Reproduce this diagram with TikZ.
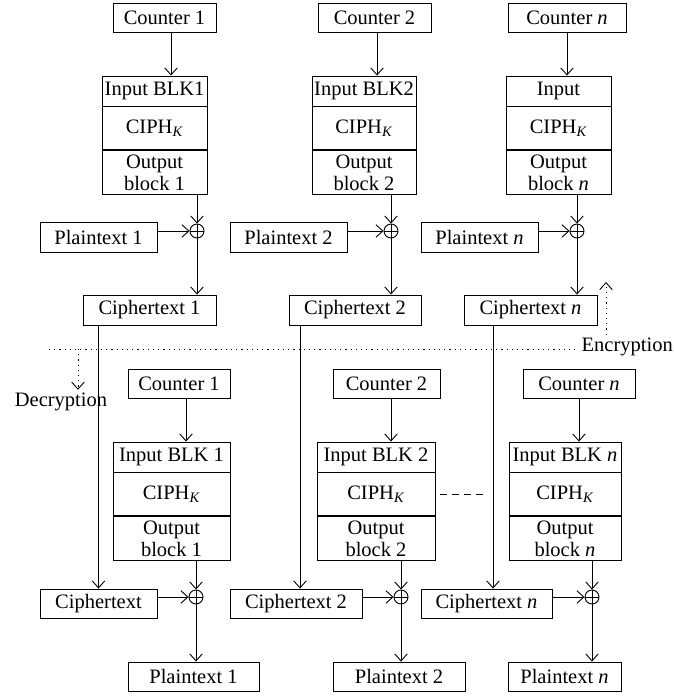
\documentclass[tikz,border=0pt]{standalone}
\usepackage{fontspec}
\setmainfont{Liberation Serif}
\usetikzlibrary{shapes.geometric, arrows.meta, positioning}
\tikzstyle{box} = [rectangle, minimum height=29pt, inner sep=0pt, text centered, draw=black, line width=0.9pt]
\tikzstyle{inblk} = [box, minimum height=30pt]
\tikzstyle{ciphblk} = [box, minimum height=43pt]
\tikzstyle{outblk} = [box, minimum height=44pt, align=center]
\tikzstyle{xorop} = [circle, draw=black, line width=0.9pt, minimum size=14pt, inner sep=0pt, path picture={\draw[line width=0.9pt] (path picture bounding box.north) -- (path picture bounding box.south) (path picture bounding box.west) -- (path picture bounding box.east);}]
\tikzstyle{arrow} = [line width=0.9pt, -{Straight Barb[length=7pt,width=12.5pt]}]
\tikzstyle{dotline} = [line width=0.9pt, dash pattern=on 1.2pt off 4pt]
\tikzstyle{dotarrow} = [arrow, dash pattern=on 1.2pt off 4pt]
\tikzstyle{note} = [inner sep=3pt]

\begin{document}
\begin{tikzpicture}[x=1pt, y=-1pt, font=\fontsize{20.5}{22}\selectfont]
\useasboundingbox (0,0) rectangle (674,696);

% Encryption
\node (ctr1) [box, minimum width=103pt] at (164.5,17.5) {Counter 1};
\node (ctr2) [box, minimum width=113pt] at (374.5,17.5) {Counter 2};
\node (ctrn) [box, minimum width=118pt] at (567,17.5) {Counter \textit{n}};

\node (inp1) [inblk, minimum width=105pt] at (154.5,91) {Input BLK1};
\node (ciph1) [ciphblk, minimum width=105pt, below=0pt of inp1] {CIPH\textsubscript{\textit{K}}};
\node (out1) [outblk, minimum width=105pt, below=0pt of ciph1] {Output\\block 1};
\node (inp2) [inblk, minimum width=104pt] at (364,91) {Input BLK2};
\node (ciph2) [ciphblk, minimum width=104pt, below=0pt of inp2] {CIPH\textsubscript{\textit{K}}};
\node (out2) [outblk, minimum width=104pt, below=0pt of ciph2] {Output\\block 2};
\node (inpn) [inblk, minimum width=105pt] at (558.5,91) {Input};
\node (ciphn) [ciphblk, minimum width=105pt, below=0pt of inpn] {CIPH\textsubscript{\textit{K}}};
\node (outn) [outblk, minimum width=105pt, below=0pt of ciphn] {Output\\block \textit{n}};

\node (xor1) [xorop] at (197,231) {};
\node (xor2) [xorop] at (391,231) {};
\node (xorn) [xorop] at (577,231) {};

\node (pt1) [inblk, minimum width=117pt] at (98.5,237) {Plaintext 1};
\node (pt2) [inblk, minimum width=117pt] at (288.5,237) {Plaintext 2};
\node (ptn) [inblk, minimum width=117pt] at (479.5,237) {Plaintext \textit{n}};

\node (ct1) [inblk, minimum width=133pt] at (149.5,310) {Ciphertext 1};
\node (ct2) [inblk, minimum width=132pt] at (355,310) {Ciphertext 2};
\node (ctn) [inblk, minimum width=133pt] at (530.5,310) {Ciphertext \textit{n}};

% Decryption
\node (ctrb1) [box, minimum width=102pt] at (179,383.5) {Counter 1};
\node (ctrb2) [box, minimum width=107pt] at (386.5,383.5) {Counter 2};
\node (ctrbn) [box, minimum width=112pt] at (579,383.5) {Counter \textit{n}};

\node (inpb1) [inblk, minimum width=117pt] at (171.5,457) {Input BLK 1};
\node (ciphb1) [ciphblk, minimum width=117pt, below=0pt of inpb1] {CIPH\textsubscript{\textit{K}}};
\node (outb1) [outblk, minimum width=117pt, below=0pt of ciphb1] {Output\\block 1};
\node (inpb2) [inblk, minimum width=118pt] at (376,457) {Input BLK 2};
\node (ciphb2) [ciphblk, minimum width=118pt, below=0pt of inpb2] {CIPH\textsubscript{\textit{K}}};
\node (outb2) [outblk, minimum width=118pt, below=0pt of ciphb2] {Output\\block 2};
\node (inpbn) [inblk, minimum width=112pt] at (565,457) {Input BLK \textit{n}};
\node (ciphbn) [ciphblk, minimum width=112pt, below=0pt of inpbn] {CIPH\textsubscript{\textit{K}}};
\node (outbn) [outblk, minimum width=112pt, below=0pt of ciphbn] {Output\\block \textit{n}};

\node (xorb1) [xorop] at (196,597) {};
\node (xorb2) [xorop] at (401,597) {};
\node (xorbn) [xorop] at (592,597) {};

\node (ctb1) [box, minimum width=117pt] at (98.5,603.5) {Ciphertext};
\node (ctb2) [box, minimum width=132pt] at (296,603.5) {Ciphertext 2};
\node (ctbn) [box, minimum width=131pt] at (486.5,603.5) {Ciphertext \textit{n}};

\node (ptb1) [box, minimum width=131pt] at (193.5,676.5) {Plaintext 1};
\node (ptb2) [box, minimum width=132pt] at (399,676.5) {Plaintext 2};
\node (ptbn) [box, minimum width=113pt] at (564.5,676.5) {Plaintext \textit{n}};

\node (enc) [note, anchor=east] at (676,347) {Encryption};
\node (dec) [note] at (61,402) {Decryption};

% Points for the vertical lines
\coordinate (k1) at (171,0);
\coordinate (k2) at (377,0);
\coordinate (kn) at (567,0);
\coordinate (kb1) at (186,0);
\coordinate (kb2) at (391,0);
\coordinate (kbn) at (579,0);
\coordinate (c2) at (300,0);
\coordinate (cn) at (493,0);
\coordinate (sepstart) at (49,349);
\coordinate (decdown) at (78,349);
\coordinate (encup) at (606,282);
\coordinate (dashend) at (488,0);

% Arrows for Encryption
\draw [arrow] (k1 |- ctr1.south) -- (k1 |- inp1.north);
\draw [arrow] (k2 |- ctr2.south) -- (k2 |- inp2.north);
\draw [arrow] (kn |- ctrn.south) -- (kn |- inpn.north);
\draw [arrow] (xor1 |- out1.south) -- (xor1);
\draw [arrow] (xor2 |- out2.south) -- (xor2);
\draw [arrow] (xorn |- outn.south) -- (xorn);
\draw [arrow] (pt1.east |- xor1) -- (xor1);
\draw [arrow] (pt2.east |- xor2) -- (xor2);
\draw [arrow] (ptn.east |- xorn) -- (xorn);
\draw [arrow] (xor1) -- (xor1 |- ct1.north);
\draw [arrow] (xor2) -- (xor2 |- ct2.north);
\draw [arrow] (xorn) -- (xorn |- ctn.north);

% Ciphertexts carried down
\draw [arrow] (ct1.south -| ctb1.north) -- (ctb1.north);
\draw [arrow] (c2 |- ct2.south) -- (c2 |- ctb2.north);
\draw [arrow] (cn |- ctn.south) -- (cn |- ctbn.north);

% Arrows for Decryption
\draw [arrow] (kb1 |- ctrb1.south) -- (kb1 |- inpb1.north);
\draw [arrow] (kb2 |- ctrb2.south) -- (kb2 |- inpb2.north);
\draw [arrow] (kbn |- ctrbn.south) -- (kbn |- inpbn.north);
\draw [arrow] (xorb1 |- outb1.south) -- (xorb1);
\draw [arrow] (xorb2 |- outb2.south) -- (xorb2);
\draw [arrow] (xorbn |- outbn.south) -- (xorbn);
\draw [arrow] (ctb1.east |- xorb1) -- (xorb1);
\draw [arrow] (ctb2.east |- xorb2) -- (xorb2);
\draw [arrow] (ctbn.east |- xorbn) -- (xorbn);
\draw [arrow] (xorb1) -- (xorb1 |- ptb1.north);
\draw [arrow] (xorb2) -- (xorb2 |- ptb2.north);
\draw [arrow] (xorbn) -- (xorbn |- ptbn.north);

\draw [line width=0.9pt, dash pattern=on 7pt off 5pt] ([xshift=5pt]ciphb2.east) -- (dashend |- ciphb2.east);

% Separator
\draw [dotline] (sepstart) -- (sepstart -| enc.west);
\draw [dotarrow] (decdown) -- (decdown |- dec.north);
\draw [dotarrow] (encup |- enc.north) -- (encup);

\end{tikzpicture}
\end{document}
